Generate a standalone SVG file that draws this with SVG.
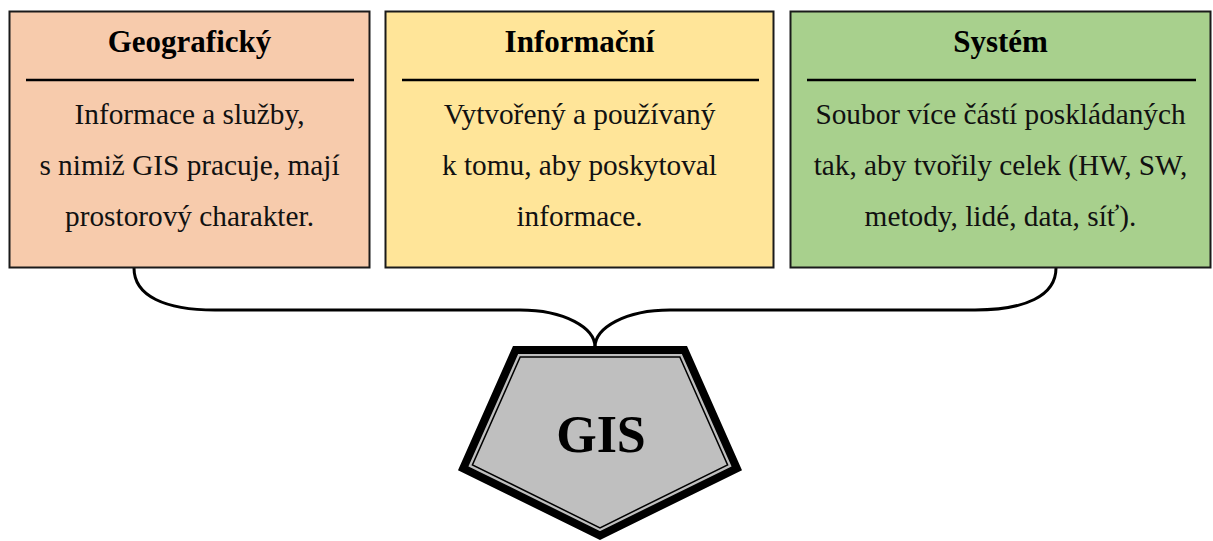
<svg xmlns="http://www.w3.org/2000/svg" width="1213" height="541" viewBox="0 0 1213 541">
  <style>
    .box { stroke: #1a1a1a; stroke-width: 2; }
    .rule { stroke: #000; stroke-width: 2.5; }
    .title { font-family: "Liberation Serif", "Times New Roman", serif; font-weight: bold; font-size: 31px; fill: #000; text-anchor: middle; }
    .body { font-family: "Liberation Serif", "Times New Roman", serif; font-size: 29.3px; fill: #111; text-anchor: middle; }
    .link { fill: none; stroke: #000; stroke-width: 3; }
  </style>

  <!-- connectors joining the three definitions into the GIS shape -->
  <g id="connectors">
    <path class="link" d="M134,268 C134,296 165,310 215,310 L520,310 C565,310 595,328 595,347"/>
    <path class="link" d="M1056,268 C1056,296 1025,310 975,310 L670,310 C625,310 595,328 595,347"/>
  </g>

  <g id="node-geograficky">
    <rect class="box" x="9.5" y="11.5" width="360" height="256" fill="#F7CBAC"/>
    <line class="rule" x1="26" y1="80" x2="354" y2="80"/>
    <text class="title" x="189.5" y="52">Geografický</text>
    <text class="body" x="189.5" y="124">Informace a služby,</text>
    <text class="body" x="189.5" y="175">s nimiž GIS pracuje, mají</text>
    <text class="body" x="189.5" y="226">prostorový charakter.</text>
  </g>

  <g id="node-informacni">
    <rect class="box" x="385.5" y="11.5" width="388" height="256" fill="#FFE599"/>
    <line class="rule" x1="402" y1="80" x2="759" y2="80"/>
    <text class="title" x="579.5" y="52">Informační</text>
    <text class="body" x="579.5" y="124">Vytvořený a používaný</text>
    <text class="body" x="579.5" y="175">k tomu, aby poskytoval</text>
    <text class="body" x="579.5" y="226">informace.</text>
  </g>

  <g id="node-system">
    <rect class="box" x="790.5" y="11.5" width="420" height="256" fill="#A8D08D"/>
    <line class="rule" x1="807" y1="80" x2="1196" y2="80"/>
    <text class="title" x="1000.5" y="52">Systém</text>
    <text class="body" x="1000.5" y="124">Soubor více částí poskládaných</text>
    <text class="body" x="1000.5" y="175">tak, aby tvořily celek (HW, SW,</text>
    <text class="body" x="1000.5" y="226">metody, lidé, data, síť).</text>
  </g>

  <g id="node-gis">
    <!-- thick outer frame -->
    <polygon points="515.6,350 684.4,350 736.8,468.3 600,535.5 463.2,468.3" fill="#BFBFBF" stroke="#000" stroke-width="8" stroke-linejoin="miter"/>
    <!-- thin inner frame -->
    <polygon points="520.2,357 679.8,357 727.6,464.9 600,527.8 472.4,464.9" fill="#BFBFBF" stroke="#000" stroke-width="1.5"/>
    <text x="601" y="452" font-family="Liberation Serif, Times New Roman, serif" font-weight="bold" font-size="52" text-anchor="middle" fill="#000">GIS</text>
  </g>
</svg>
